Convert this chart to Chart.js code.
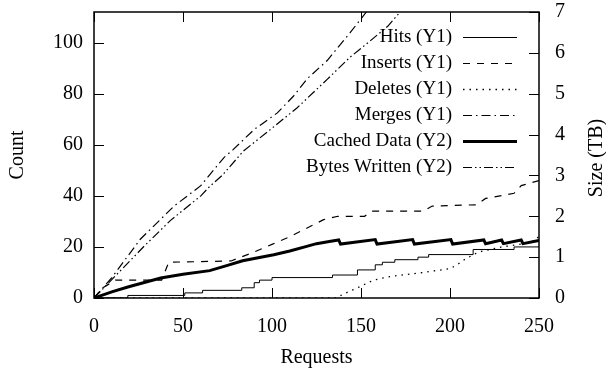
<!DOCTYPE html>
<html>
<head>
<meta charset="utf-8">
<script src="https://cdn.jsdelivr.net/npm/chart.js@4"></script>
<style>
  html, body { margin: 0; padding: 0; background: #fff; }
  #wrap { width: 606px; height: 375px; }
</style>
</head>
<body>
<div id="wrap"><canvas id="chart" width="606" height="375"></canvas></div>
<script>
// Values
const hitsX = [0, 19, 51, 61, 83, 90, 93, 100, 134, 148, 158, 162, 169, 182, 188, 213, 236, 250];
const hitsY = [0, 1, 2, 3, 4, 6, 7, 8, 9, 11, 13, 14, 15, 16, 17, 19, 20, 20];

const insertsX = [0, 5, 12, 38, 42, 77, 90, 100, 110, 120, 129, 137, 152, 156, 185, 190, 215, 220, 236, 240, 250];
const insertsY = [0, 4, 7, 7, 14, 14.5, 18, 21, 24, 27.5, 30.7, 32, 32, 34, 34, 36, 36.5, 39, 41, 44, 46];

const deletesX = [0, 136, 140, 148, 157, 167, 185, 200, 204, 208, 216, 229, 245, 250];
const deletesY = [0, 0, 1.5, 4, 7, 8.5, 10, 11.5, 13, 15, 18, 20, 21.6, 24];

const mergesX = [0, 10, 26, 45, 60, 73, 78, 90, 103, 112, 120, 131, 144, 153, 160];
const mergesY = [0, 8, 23, 36, 44, 55, 58, 66, 72.5, 79, 86, 93, 104, 112, 117];

const cachedX = [0, 10, 19, 37.5, 50, 65, 75, 83.5, 101, 110, 120, 125, 133, 137.5, 138.5, 158, 159, 179, 180, 200.5, 201.5, 219, 220, 229, 230, 240, 241, 250];
const cachedY = [0, 0.15, 0.27, 0.49, 0.58, 0.67, 0.8, 0.91, 1.06, 1.15, 1.27, 1.33, 1.39, 1.42, 1.32, 1.43, 1.32, 1.43, 1.32, 1.43, 1.32, 1.42, 1.33, 1.42, 1.33, 1.42, 1.33, 1.41];

const bytesX = [0, 10, 28, 43, 60, 65, 72, 84, 97, 114, 131, 144, 154, 165, 172, 180];
const bytesY = [0, 0.45, 1.26, 1.9, 2.5, 2.73, 3.0, 3.6, 4.05, 4.65, 5.35, 5.9, 6.25, 6.65, 7.0, 7.3];

const xTicks = [0, 50, 100, 150, 200, 250];
const y1Ticks = [0, 20, 40, 60, 80, 100];
const y2Ticks = [0, 1, 2, 3, 4, 5, 6, 7];

const FONT = 'Liberation Serif';

const pts = (xs, ys) => xs.map((x, i) => ({ x: x, y: ys[i] }));
const keepTicks = (list) => (scale) => {
    scale.ticks = list.map(v => ({ value: v }));
};
// fixed sizes so the plot box lands where the reference has it
const fixWidth = (w) => (s) => {
    s.width = w;
    s.paddingTop = 0;
    s.paddingBottom = 0;
};
const fixHeight = (h) => (s) => {
    s.height = h;
    s.paddingLeft = 0;
    s.paddingRight = 0;
};

// gnuplot style: ticks pointing inward, plus the frame
const innerTicks = {
    id: 'innerTicks',
    afterDatasetsDraw(chart) {
        const { ctx, chartArea: a, scales } = chart;
        const len = 10;
        ctx.save();
        ctx.strokeStyle = '#000';
        ctx.lineWidth = 1;
        ctx.beginPath();
        xTicks.forEach(v => {
            const p = Math.round(scales.x.getPixelForValue(v)) + 0.5;
            ctx.moveTo(p, a.bottom); ctx.lineTo(p, a.bottom - len);
            ctx.moveTo(p, a.top); ctx.lineTo(p, a.top + len);
        });
        y1Ticks.forEach(v => {
            const p = Math.round(scales.y.getPixelForValue(v)) + 0.5;
            ctx.moveTo(a.left, p); ctx.lineTo(a.left + len, p);
        });
        y2Ticks.forEach(v => {
            const p = Math.round(scales.y2.getPixelForValue(v)) + 0.5;
            ctx.moveTo(a.right, p); ctx.lineTo(a.right - len, p);
        });
        ctx.stroke();
        ctx.lineWidth = 1.5;
        ctx.strokeRect(a.left, a.top, a.right - a.left, a.bottom - a.top);
        ctx.restore();
    }
};

// key in the top right corner, text right aligned, sample on the right
const keyBox = {
    id: 'keyBox',
    afterDatasetsDraw(chart) {
        const { ctx } = chart;
        ctx.save();
        ctx.font = '19px "' + FONT + '"';
        ctx.fillStyle = '#000';
        ctx.textAlign = 'right';
        ctx.textBaseline = 'middle';
        chart.data.datasets.forEach((ds, i) => {
            const y = 37 + i * 26;
            ctx.fillText(ds.label, 452, y);
            ctx.beginPath();
            ctx.setLineDash(ds.borderDash || []);
            ctx.lineWidth = ds.borderWidth;
            ctx.strokeStyle = '#000';
            ctx.moveTo(463, y + 0.5);
            ctx.lineTo(517, y + 0.5);
            ctx.stroke();
        });
        ctx.setLineDash([]);
        // right axis title, reading bottom to top
        ctx.font = '20px "' + FONT + '"';
        ctx.translate(597, 158);
        ctx.rotate(-Math.PI / 2);
        ctx.textAlign = 'center';
        ctx.fillText('Size (TB)', 0, 0);
        ctx.restore();
    }
};

const line = (label, xs, ys, axis, dash, width, stepped) => ({
    label: label,
    data: pts(xs, ys),
    yAxisID: axis,
    borderColor: '#000',
    borderWidth: width,
    borderDash: dash,
    pointRadius: 0,
    fill: false,
    tension: 0,
    stepped: stepped || false
});

new Chart(document.getElementById('chart'), {
    type: 'line',
    data: {
        datasets: [
            line('Hits (Y1)', hitsX, hitsY, 'y', [], 1, true),
            line('Inserts (Y1)', insertsX, insertsY, 'y', [7, 7], 1.2),
            line('Deletes (Y1)', deletesX, deletesY, 'y', [1.5, 5], 1.3),
            line('Merges (Y1)', mergesX, mergesY, 'y', [9, 4, 1.5, 4], 1.2),
            line('Cached Data (Y2)', cachedX, cachedY, 'y2', [], 3),
            line('Bytes Written (Y2)', bytesX, bytesY, 'y2', [9, 3, 1.5, 3, 1.5, 3], 1.2)
        ]
    },
    options: {
        responsive: false,
        animation: false,
        layout: { padding: { top: 12, left: 0, right: 0, bottom: 0 } },
        plugins: {
            legend: { display: false },
            tooltip: { enabled: false }
        },
        scales: {
            x: {
                type: 'linear',
                min: 0,
                max: 250,
                afterBuildTicks: keepTicks(xTicks),
                afterFit: fixHeight(77),
                grid: { display: false, drawTicks: false },
                border: { display: false },
                ticks: { padding: 17, color: '#000', font: { family: FONT, size: 20 } },
                title: { display: true, text: 'Requests', color: '#000', font: { family: FONT, size: 20 }, padding: { top: 0, bottom: 5 } }
            },
            y: {
                position: 'left',
                min: 0,
                max: 112,
                afterBuildTicks: keepTicks(y1Ticks),
                afterFit: fixWidth(94),
                grid: { display: false, drawTicks: false },
                border: { display: false },
                ticks: { padding: 11, color: '#000', font: { family: FONT, size: 20 } },
                title: { display: true, text: 'Count', color: '#000', font: { family: FONT, size: 20 }, padding: { top: 6, bottom: 0 } }
            },
            y2: {
                position: 'right',
                min: 0,
                max: 7,
                afterBuildTicks: keepTicks(y2Ticks),
                afterFit: fixWidth(67),
                grid: { display: false, drawTicks: false },
                border: { display: false },
                ticks: { padding: 16, color: '#000', font: { family: FONT, size: 20 } }
            }
        }
    },
    plugins: [innerTicks, keyBox]
});
</script>
</body>
</html>
